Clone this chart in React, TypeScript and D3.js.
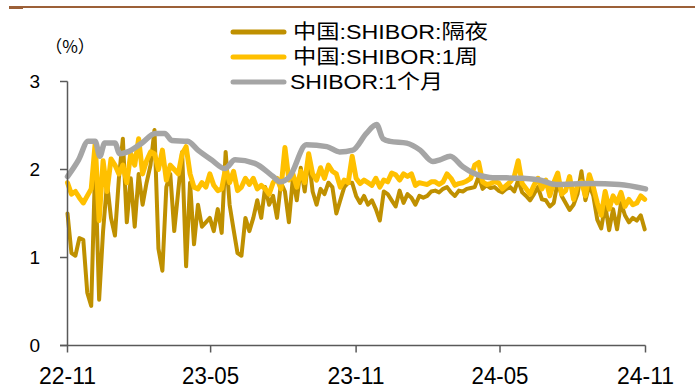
import React from "react";
import * as d3 from "d3";

// ---- data ----
const startDate = new Date(2022, 10, 1);
const endDate = new Date(2024, 10, 1);
// sampling grid: every 5 calendar days from 2022-11-01 to 2024-11-01
const sampleDates: Date[] = d3.timeDay.range(startDate, d3.timeDay.offset(endDate, 1), 5);

const overnight: number[] = [
  1.50, 1.05, 1.02, 1.22, 1.20, 0.60, 0.45, 2.05, 0.52, 1.30,
  1.85, 1.45, 1.25, 1.90, 2.35, 1.40, 1.90, 1.35, 1.95, 1.60,
  1.85, 2.05, 2.45, 1.10, 0.85, 1.80, 1.95, 1.30, 1.75, 2.20,
  0.90, 1.85, 1.15, 1.60, 1.35, 1.40, 1.45, 1.30, 1.55, 1.28,
  2.20, 1.60, 1.32, 1.05, 1.02, 1.45, 1.30, 1.45, 1.65, 1.45,
  1.80, 1.60, 1.70, 1.45, 1.85, 1.75, 1.40, 1.90, 1.65, 2.02,
  1.75, 2.15, 1.75, 1.60, 1.78, 1.72, 1.85, 1.80, 1.50, 1.65,
  1.80, 1.85, 1.85, 1.70, 1.62, 1.70, 1.60, 1.65, 1.55, 1.42,
  1.75, 1.72, 1.65, 1.58, 1.76, 1.62, 1.72, 1.68, 1.60, 1.70,
  1.68, 1.70, 1.75, 1.76, 1.74, 1.78, 1.80, 1.74, 1.70, 1.76,
  1.75, 1.78, 1.79, 1.80, 1.92, 1.78, 1.82, 1.79, 1.80, 1.76,
  1.74, 1.78, 1.80, 1.75, 1.88, 1.74, 1.70, 1.65, 1.72, 1.80,
  1.66, 1.65, 1.58, 1.62, 1.86, 1.70, 1.62, 1.54, 1.60, 1.72,
  1.98, 1.65, 1.82, 1.70, 1.43, 1.33, 1.60, 1.31, 1.55, 1.32,
  1.62, 1.48, 1.40, 1.45, 1.42, 1.48, 1.32,
];

const oneWeek: number[] = [
  1.85, 1.72, 1.75, 1.68, 1.62, 1.70, 1.78, 2.30, 1.42, 2.10,
  1.75, 2.12, 2.05, 1.95, 2.05, 1.85, 2.18, 2.05, 2.35, 1.95,
  2.10, 2.20, 2.18, 2.00, 2.22, 1.88, 2.05, 2.00, 1.95, 2.18,
  2.26, 1.95, 1.80, 1.78, 1.85, 1.80, 1.95, 1.82, 1.76, 1.78,
  2.02, 1.85, 1.98, 1.76, 1.80, 1.90, 1.83, 1.90, 1.78, 1.82,
  1.78, 1.72, 1.85, 1.90, 1.78, 2.25, 1.88, 1.95, 1.80, 1.98,
  1.85, 2.18, 1.95, 1.88, 2.02, 1.90, 2.05, 1.98, 1.95, 1.80,
  1.88, 1.85, 2.15, 1.90, 1.84, 1.88, 1.85, 1.82, 1.90, 1.80,
  1.88, 1.86, 1.96, 1.94, 1.88, 1.95, 1.92, 1.95, 1.82, 1.85,
  1.84, 1.83, 1.86, 1.86, 1.83, 1.86, 1.95, 1.90, 1.82, 1.84,
  1.85, 1.87, 1.90, 2.05, 2.08, 1.86, 1.83, 1.84, 1.86, 1.85,
  1.78, 1.82, 1.86, 1.92, 2.10, 1.84, 1.78, 1.72, 1.82, 1.90,
  1.78, 1.88, 1.70, 1.85, 1.96, 1.72, 1.76, 1.92, 1.66, 1.82,
  1.86, 1.70, 1.94, 1.80, 1.62, 1.48, 1.75, 1.55, 1.70, 1.62,
  1.74, 1.58, 1.66, 1.60, 1.62, 1.70, 1.66,
];

const oneMonthDates: string[] = [
  "2022-11-01", "2022-11-15", "2022-11-27", "2022-12-06", "2022-12-12", "2022-12-18",
  "2022-12-31", "2023-01-06", "2023-01-16", "2023-02-03", "2023-02-20", "2023-03-04",
  "2023-03-13", "2023-04-02", "2023-04-15", "2023-05-02", "2023-05-19", "2023-06-01",
  "2023-06-26", "2023-07-19", "2023-07-28", "2023-08-09", "2023-08-30", "2023-09-25",
  "2023-10-11", "2023-10-28", "2023-11-14", "2023-11-27", "2023-12-05", "2023-12-14",
  "2024-01-04", "2024-01-21", "2024-02-06", "2024-02-15", "2024-02-28", "2024-03-15",
  "2024-03-28", "2024-04-18", "2024-05-30", "2024-06-20", "2024-07-11", "2024-08-23",
  "2024-09-29", "2024-11-01",
];
const oneMonth: number[] = [
  1.92, 2.11, 2.32, 2.32, 2.15, 2.30,
  2.30, 2.18, 2.20, 2.30, 2.41, 2.41,
  2.33, 2.32, 2.22, 2.11, 2.01, 2.11,
  2.07, 1.92, 1.86, 1.92, 2.28, 2.26,
  2.20, 2.22, 2.41, 2.51, 2.35, 2.32,
  2.30, 2.22, 2.09, 2.11, 2.15, 2.03,
  1.96, 1.91, 1.90, 1.88, 1.83, 1.84,
  1.83, 1.78,
];

const seriesNames = ["中国:SHIBOR:隔夜", "中国:SHIBOR:1周", "SHIBOR:1个月"];
const seriesColors = ["#BF9000", "#FFC000", "#A5A5A5"];
const xTickDates = ["2022-11-01", "2023-05-01", "2023-11-01", "2024-05-01", "2024-11-01"];
const xTickLabels = ["22-11", "23-05", "23-11", "24-05", "24-11"];
const yTicks = [0, 1, 2, 3];
const yUnit = "（%）";

const parse = d3.timeParse("%Y-%m-%d");

export default function App() {
  const W = 695, H = 392;
  const x = d3.scaleTime().domain([startDate, endDate]).range([67.5, 645.5]);
  const y = d3.scaleLinear().domain([0, 3]).range([345.5, 81.5]);
  const line = d3
    .line<[Date, number]>()
    .x((d) => x(d[0]))
    .y((d) => y(d[1]))
    .curve(d3.curveLinear);
  const smooth = d3
    .line<[Date, number]>()
    .x((d) => x(d[0]))
    .y((d) => y(d[1]))
    .curve(d3.curveMonotoneX);

  const s1: [Date, number][] = overnight.map((v, i) => [sampleDates[i], v]);
  const s2: [Date, number][] = oneWeek.map((v, i) => [sampleDates[i], v]);
  const s3: [Date, number][] = oneMonth.map((v, i) => [parse(oneMonthDates[i]) as Date, v]);

  const font = "Arial, 'Liberation Sans', 'Noto Sans CJK SC', sans-serif";
  const cjk = "'Noto Sans CJK SC', sans-serif";
  const axisColor = "#595959";
  const legendY = [32, 57, 82];
  const legendW = [195, 185, 153];
  const legendX = [293, 293, 290];

  return (
    <svg
      width={W}
      height={H}
      style={{ position: "absolute", left: 0, top: 0, background: "#fff" }}
      fontFamily={font}
    >
      {/* top rule */}
      <line x1={9} x2={695} y1={7} y2={7} stroke="#9C6038" strokeWidth={2} />
      <rect x={9} y={6} width={14} height={3} fill="#9C6038" />

      {/* series */}
      <path d={line(s1) || ""} fill="none" stroke={seriesColors[0]} strokeWidth={4} strokeLinejoin="round" strokeLinecap="round" />
      <path d={line(s2) || ""} fill="none" stroke={seriesColors[1]} strokeWidth={5} strokeLinejoin="round" strokeLinecap="round" />
      <path d={smooth(s3) || ""} fill="none" stroke={seriesColors[2]} strokeWidth={5.5} strokeLinejoin="round" strokeLinecap="round" />

      {/* y axis */}
      <line x1={67.5} x2={67.5} y1={y(3)} y2={y(0)} stroke={axisColor} strokeWidth={1.5} />
      {yTicks.map((t) => (
        <g key={t}>
          <line x1={60} x2={67.5} y1={y(t)} y2={y(t)} stroke={axisColor} strokeWidth={1.5} />
          <text x={40} y={y(t)} dy="0.36em" textAnchor="end" fontSize={19} fill="#000">
            {t}
          </text>
        </g>
      ))}
      <text x={70} y={47} dy="0.36em" textAnchor="middle" fontSize={17} fill="#000" fontFamily={cjk}>
        {yUnit}
      </text>

      {/* x axis */}
      <line x1={60} x2={x(endDate)} y1={y(0)} y2={y(0)} stroke={axisColor} strokeWidth={1.5} />
      {xTickDates.map((d, i) => {
        const xx = x(parse(d) as Date);
        return (
          <g key={d}>
            <line x1={xx} x2={xx} y1={y(0)} y2={y(0) + 7} stroke={axisColor} strokeWidth={1.5} />
            <text x={xx} y={384} textAnchor="middle" fontSize={23} fill="#000" textLength={57} lengthAdjust="spacingAndGlyphs">
              {xTickLabels[i]}
            </text>
          </g>
        );
      })}

      {/* legend */}
      {seriesNames.map((n, i) => (
        <g key={n}>
          <line x1={233} x2={284} y1={legendY[i]} y2={legendY[i]} stroke={seriesColors[i]} strokeWidth={5} strokeLinecap="round" />
          <text x={legendX[i]} y={legendY[i]} dy="0.36em" fontSize={20} fill="#000" textLength={legendW[i]} lengthAdjust="spacingAndGlyphs">
            {n}
          </text>
        </g>
      ))}
    </svg>
  );
}
